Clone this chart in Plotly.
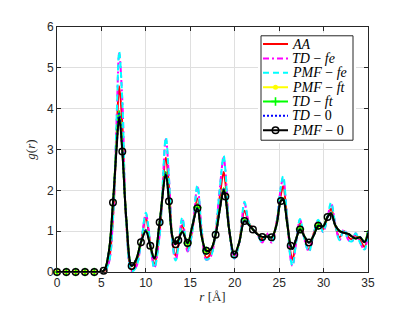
import plotly.graph_objects as go

# r grid (Angstrom) shared by every series
r = [0, 1.05, 2.1, 3.15, 4.2, 5.25, 5.8, 6.3, 6.7, 7.0,
     7.35, 7.8, 8.4, 8.9, 9.45, 10.0, 10.5, 10.95, 11.55, 12.25,
     12.6, 13.0, 13.35, 13.65, 14.1, 14.7, 15.2, 15.8, 16.3, 16.8,
     17.3, 17.85, 18.3, 18.75, 18.95, 19.4, 19.95, 20.5, 21.1, 21.6,
     22.05, 22.6, 23.1, 23.6, 24.15, 24.7, 25.2, 25.45, 25.9, 26.3,
     26.5, 26.9, 27.35, 27.9, 28.35, 28.9, 29.4, 29.95, 30.45, 30.85,
     31.3, 31.8, 32.3, 32.8, 33.2, 33.6, 34.1, 34.6, 35.0]

g_aa = [0, 0, 0, 0, 0, 0.0, 0.25, 1.35, 3.3, 4.55,
        3.6, 1.2, 0.05, 0.2, 0.72, 1.32, 0.68, 0.2, 1.0, 2.8,
        2.1, 0.75, 0.4, 0.68, 1.15, 0.58, 1.0, 1.8, 0.95, 0.35,
        0.45, 0.95, 1.8, 2.45, 2.2, 1.0, 0.38, 0.72, 1.5, 1.2,
        1.05, 0.92, 0.8, 0.92, 0.8, 1.2, 1.9, 2.1, 1.3, 0.45,
        0.3, 0.75, 1.2, 0.8, 0.55, 0.95, 1.2, 1.05, 1.35, 1.55,
        1.15, 0.85, 1.0, 0.85, 0.8, 0.9, 0.78, 0.62, 0.95]

g_td_fe = [0, 0, 0, 0, 0, 0.0, 0.2, 1.3, 3.65, 5.35,
           4.2, 1.2, 0.02, 0.12, 0.7, 1.42, 0.7, 0.1, 0.9, 3.25,
           2.3, 0.7, 0.28, 0.6, 1.3, 0.5, 0.95, 2.08, 1.0, 0.3,
           0.38, 1.0, 2.0, 2.8, 2.5, 1.0, 0.33, 0.7, 1.68, 1.2,
           1.05, 0.9, 0.72, 0.95, 0.72, 1.2, 2.08, 2.3, 1.3, 0.3,
           0.15, 0.7, 1.28, 0.75, 0.5, 0.95, 1.26, 0.98, 1.35, 1.68,
           1.2, 0.78, 1.05, 0.78, 0.75, 0.95, 0.72, 0.55, 1.0]

g_pmf_fe = [0, 0, 0, 0, 0, 0.0, 0.2, 1.3, 3.7, 5.4,
            4.2, 1.2, 0.02, 0.12, 0.7, 1.45, 0.7, 0.1, 0.9, 3.3,
            2.3, 0.7, 0.28, 0.6, 1.33, 0.52, 0.95, 2.12, 1.0, 0.3,
            0.38, 1.0, 2.0, 2.85, 2.5, 1.0, 0.33, 0.7, 1.72, 1.2,
            1.05, 0.9, 0.72, 0.95, 0.72, 1.2, 2.1, 2.35, 1.3, 0.3,
            0.15, 0.7, 1.3, 0.75, 0.5, 0.95, 1.28, 0.98, 1.35, 1.7,
            1.2, 0.78, 1.05, 0.78, 0.75, 0.95, 0.72, 0.55, 1.0]

g_pmf_ft = [0, 0, 0, 0, 0, 0.03, 0.45, 1.7, 3.1, 3.92,
            3.0, 1.3, 0.15, 0.3, 0.73, 1.03, 0.64, 0.33, 1.22, 2.45,
            1.75, 0.85, 0.68, 0.78, 1.0, 0.71, 1.1, 1.58, 0.85, 0.52,
            0.55, 0.92, 1.52, 2.05, 1.88, 1.0, 0.43, 0.72, 1.28, 1.16,
            1.04, 0.92, 0.86, 0.87, 0.85, 1.15, 1.76, 1.8, 1.2, 0.64,
            0.57, 0.8, 1.05, 0.85, 0.72, 0.9, 1.14, 1.12, 1.36, 1.45,
            1.15, 1.0, 0.96, 0.93, 0.87, 0.82, 0.85, 0.74, 1.0]

g_td_ft = [0, 0, 0, 0, 0, 0.03, 0.45, 1.7, 3.1, 3.95,
           3.0, 1.3, 0.15, 0.3, 0.73, 1.03, 0.64, 0.33, 1.22, 2.45,
           1.75, 0.85, 0.68, 0.78, 1.0, 0.71, 1.1, 1.58, 0.85, 0.52,
           0.55, 0.92, 1.52, 2.05, 1.88, 1.0, 0.43, 0.72, 1.28, 1.16,
           1.04, 0.92, 0.86, 0.87, 0.85, 1.15, 1.76, 1.8, 1.2, 0.64,
           0.57, 0.8, 1.05, 0.85, 0.72, 0.9, 1.14, 1.12, 1.36, 1.45,
           1.15, 1.0, 0.96, 0.93, 0.87, 0.82, 0.85, 0.74, 1.02]

g_td_0 = [0, 0, 0, 0, 0, 0.03, 0.45, 1.7, 3.05, 3.88,
          2.98, 1.3, 0.15, 0.3, 0.73, 1.02, 0.64, 0.33, 1.22, 2.42,
          1.74, 0.85, 0.68, 0.78, 0.99, 0.71, 1.1, 1.57, 0.85, 0.52,
          0.55, 0.91, 1.51, 2.02, 1.86, 1.0, 0.43, 0.72, 1.26, 1.15,
          1.04, 0.92, 0.86, 0.87, 0.85, 1.15, 1.75, 1.78, 1.2, 0.64,
          0.57, 0.8, 1.04, 0.85, 0.72, 0.9, 1.13, 1.12, 1.35, 1.44,
          1.15, 1.0, 0.96, 0.93, 0.87, 0.82, 0.85, 0.73, 0.97]

g_pmf_0 = [0, 0, 0, 0, 0, 0.03, 0.45, 1.7, 3.0, 3.78,
           2.95, 1.3, 0.15, 0.3, 0.73, 1.0, 0.64, 0.33, 1.22, 2.38,
           1.73, 0.85, 0.68, 0.78, 0.98, 0.71, 1.1, 1.56, 0.85, 0.52,
           0.55, 0.91, 1.5, 2.0, 1.85, 1.0, 0.43, 0.72, 1.25, 1.15,
           1.04, 0.92, 0.86, 0.87, 0.85, 1.15, 1.74, 1.76, 1.2, 0.64,
           0.57, 0.8, 1.04, 0.85, 0.72, 0.9, 1.13, 1.12, 1.35, 1.43,
           1.15, 1.0, 0.96, 0.93, 0.87, 0.82, 0.85, 0.73, 0.95]

# r positions where markers can be seen
pmf0_marker_r = [0, 1.05, 2.1, 3.15, 4.2, 5.25, 6.3, 7.35, 8.4, 9.45,
                 10.5, 11.55, 12.6, 13.35, 13.65, 14.7, 15.8, 16.8, 17.85, 18.95,
                 19.95, 21.1, 22.05, 23.1, 24.15, 25.2, 26.3, 27.35, 28.35, 29.4,
                 30.45]
ft_marker_r = [0, 1.05, 2.1, 3.15, 4.2, 14.7, 15.8, 16.8, 27.35, 29.4]

x_ticks = [0, 5, 10, 15, 20, 25, 30, 35]
y_ticks = [0, 1, 2, 3, 4, 5, 6]

# page body has an 8px margin, so the figure sits 8px in from the corner
OFF = 8
W, H = 407 - OFF, 322 - 2 * OFF
ML, MT = 57 - OFF, 24 - OFF
PW, PH = 311, 251
MR, MB = W - ML - PW, H - MT - PH

AX = "#262626"
SANS = "Liberation Sans, Arial, sans-serif"
SERIF = "Liberation Serif, Times New Roman, serif"
LW = 2.0

series = [
    ("<i>AA</i>", g_aa, dict(color="#ff0000"), None, None),
    ("<i>TD</i> − <i>fe</i>", g_td_fe, dict(color="#ff00ff", dash="6px,3px,2px,3px"), None, None),
    ("<i>PMF</i> − <i>fe</i>", g_pmf_fe, dict(color="#00ffff", dash="6px,4px"), None, None),
    ("<i>PMF</i> − <i>ft</i>", g_pmf_ft, dict(color="#ffff00"),
     dict(symbol="circle", size=5, color="#ffff00"), ft_marker_r),
    ("<i>TD</i> − <i>ft</i>", g_td_ft, dict(color="#00ff00"),
     dict(symbol="cross-thin", size=6, line=dict(color="#00ff00", width=1.6)), ft_marker_r),
    ("<i>TD</i> − 0", g_td_0, dict(color="#0000ff", dash="2px,2px"), None, None),
    ("<i>PMF</i> − 0", g_pmf_0, dict(color="#000000"),
     dict(symbol="circle-open", size=6.5, color="#000000", line=dict(width=1.5)), pmf0_marker_r),
]

fig = go.Figure()

for name, vals, lstyle, mstyle, mr in series:
    fig.add_trace(go.Scatter(
        x=r, y=vals, mode="lines", showlegend=False, hoverinfo="skip",
        line=dict(width=LW, shape="spline", smoothing=1.0, **lstyle)))
    if mstyle:
        fig.add_trace(go.Scatter(
            x=mr, y=[vals[r.index(v)] for v in mr],
            mode="markers", marker=mstyle, cliponaxis=False,
            showlegend=False, hoverinfo="skip"))

# hand-made legend box (reference pixels, relative to the plot area corner)
bx0, bx1, by0, by1 = 261 - 57, 353 - 57, 33 - 24, 140 - 24
pad = 3
bw, bh = bx1 - bx0, by1 - by0
leg_x = dict(domain=[(bx0 - pad) / PW, (bx1 + pad) / PW],
             range=[-pad / bw, 1 + pad / bw], visible=False, anchor="y2",
             fixedrange=True)
leg_y = dict(domain=[(PH - by1 - pad) / PH, (PH - by0 + pad) / PH],
             range=[-pad / bh, 1 + pad / bh], visible=False, anchor="x2",
             fixedrange=True)

fig.add_trace(go.Scatter(
    x=[0, 1, 1, 0, 0], y=[0, 0, 1, 1, 0], mode="lines", fill="toself",
    fillcolor="white", line=dict(color=AX, width=1), xaxis="x2", yaxis="y2",
    showlegend=False, hoverinfo="skip"))

sx0, sx1, tx = 2 / bw, 27 / bw, 29 / bw
annotations = []
for i, (name, vals, lstyle, mstyle, mr) in enumerate(series):
    yc = (by1 - (17.5 + 14.7 * i)) / bh
    fig.add_trace(go.Scatter(
        x=[sx0, sx1], y=[yc, yc], mode="lines", xaxis="x2", yaxis="y2",
        line=dict(width=LW, **lstyle), showlegend=False, hoverinfo="skip"))
    if mstyle:
        fig.add_trace(go.Scatter(
            x=[(sx0 + sx1) / 2], y=[yc], mode="markers", marker=mstyle,
            xaxis="x2", yaxis="y2", showlegend=False, hoverinfo="skip"))
    annotations.append(dict(
        text=name, x=tx, y=yc, xref="x2", yref="y2", xanchor="left",
        yanchor="middle", showarrow=False,
        font=dict(family=SERIF, size=14, color="#000000")))

axis_common = dict(
    showline=True, linecolor=AX, linewidth=1, mirror="ticks",
    ticks="inside", ticklen=4, tickcolor=AX, tickwidth=1,
    showgrid=True, gridcolor="#dfdfdf", gridwidth=1, zeroline=False,
    tickfont=dict(family=SANS, size=12, color=AX), fixedrange=True)

fig.update_layout(
    width=W, height=H,
    margin=dict(l=ML, r=MR, t=MT, b=MB, pad=0),
    paper_bgcolor="white", plot_bgcolor="white",
    showlegend=False,
    xaxis=dict(range=[0, 35], tickvals=x_ticks, domain=[0, 1],
               title=dict(text="<i>r</i> [Å]", standoff=2,
                          font=dict(family=SERIF, size=13, color=AX)),
               **axis_common),
    yaxis=dict(range=[0, 6], tickvals=y_ticks, domain=[0, 1],
               title=dict(text="<i>g</i>(<i>r</i>)", standoff=8,
                          font=dict(family=SERIF, size=13, color=AX)),
               **axis_common),
    xaxis2=leg_x, yaxis2=leg_y,
    annotations=annotations,
)

fig.write_html("out.html")
